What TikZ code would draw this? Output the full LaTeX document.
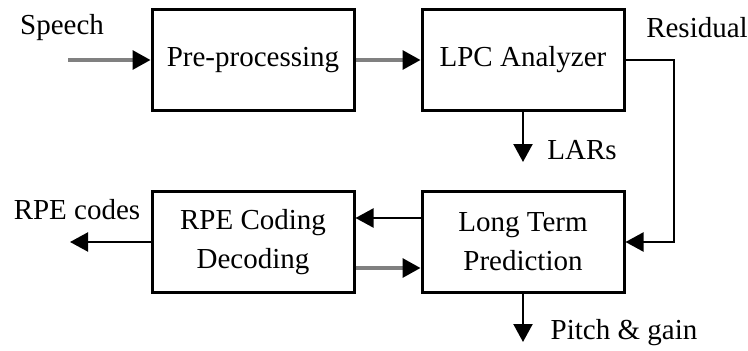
\documentclass[tikz,border=0pt]{standalone}
\usepackage{fontspec}
\setmainfont{Liberation Serif}
\usetikzlibrary{arrows.meta}
\begin{document}
\begin{tikzpicture}[x=1pt,y=-1pt,
  block/.style={draw=black,line width=3pt,minimum width=202pt,minimum height=101pt,
    inner sep=0pt,align=center,font=\fontsize{29}{39}\selectfont},
  lbl/.style={inner sep=0pt,font=\fontsize{29}{39}\selectfont},
  tip/.style={-{Triangle[length=18pt,width=19pt,color=black]}},
  grayline/.style={tip,draw=black!50,line width=3.2pt},
  blackline/.style={tip,draw=black,line width=2.2pt}]
\useasboundingbox (0,0) rectangle (748,351);

% processing blocks
\node[block] (pre) at (253,60)  {Pre-processing};
\node[block] (lpc) at (523,60)  {LPC Analyzer};
\node[block] (ltp) at (523,242) {Long Term\\Prediction};
\node[block] (rpe) at (253,242) {RPE Coding\\Decoding};

% free ends of the connectors
\coordinate (in)    at (68,60);
\coordinate (resR)  at (674,60);
\coordinate (lars)  at (523,162);
\coordinate (codes) at (70,242);
\coordinate (pitch) at (523,342);

% labels
\node[lbl] (tSpeech) at (62,28)   {Speech};
\node[lbl] (tRes)    at (697,28)  {Residual};
\node[lbl] (tLars)   at (582,150) {LARs};
\node[lbl] (tCodes)  at (77,210)  {RPE codes};
\node[lbl] (tPitch)  at (624,333) {Pitch \& gain};

% connectors
\draw[grayline] (in) -- (pre.west);
\draw[grayline] (pre.east) -- (lpc.west);
\draw[blackline] (lpc.east) -- (resR) |- (ltp.east);
\draw[blackline] (lpc.south) -- (lars);
\draw[blackline] ([yshift=24pt]ltp.west) -- ([yshift=24pt]rpe.east);
\draw[grayline] ([yshift=-26pt]rpe.east) -- ([yshift=-26pt]ltp.west);
\draw[blackline] (rpe.west) -- (codes);
\draw[blackline] (ltp.south) -- (pitch);
\end{tikzpicture}
\end{document}
